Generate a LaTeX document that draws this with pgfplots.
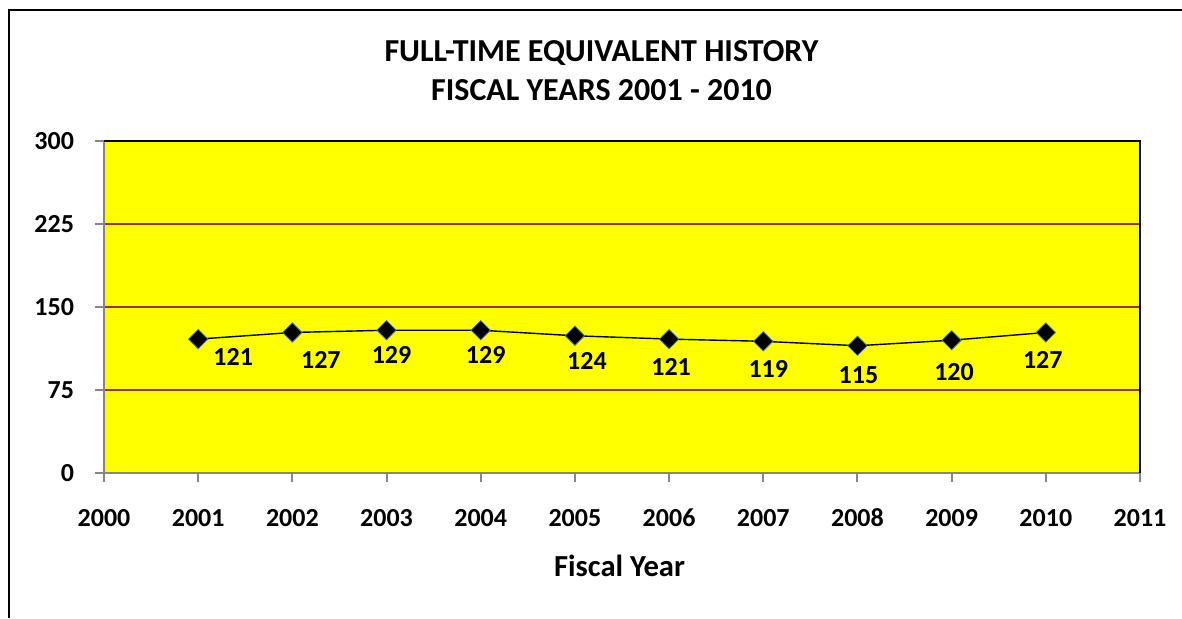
\documentclass[border=0pt]{standalone}
\usepackage{fontspec}
\setmainfont{Carlito}
\usepackage{pgfplots}
\usepackage{pgfplotstable}
\pgfplotsset{compat=1.18}
\definecolor{gridred}{RGB}{150,50,50}
\definecolor{axgray}{RGB}{134,134,134}
\definecolor{mkblue}{RGB}{70,110,180}
\definecolor{plotyellow}{RGB}{255,255,0}
\pgfplotstableread{
x y dx dy
2001 121 17.5 -8.7
2002 127 14.25 -13.75
2003 129 2.5 -12.5
2004 129 2.5 -12.5
2005 124 6 -12.5
2006 121 1 -14
2007 119 2.5 -14
2008 115 0.5 -14.5
2009 120 1.2 -15.75
2010 127 -1.5 -13.75
}\fte
\begin{document}
\begin{tikzpicture}
\useasboundingbox (0pt,0pt) rectangle (591pt,309pt);
\draw[line width=1pt,black] (4.5pt,0pt) -- (4.5pt,304pt) -- (591pt,304pt);
\begin{axis}[
  at={(52pt,72.5pt)}, anchor=south west,
  scale only axis, width=518pt, height=166pt,
  xmin=2000, xmax=2011, ymin=0, ymax=300,
  xtick={2000,2001,...,2011}, ytick={0,75,150,225,300},
  axis lines*=left,
  axis line style={axgray, line width=1pt},
  tick align=outside,
  major tick length=4.5pt,
  tick style={axgray, line width=1pt},
  ymajorgrids, grid style={gridred, line width=0.8pt},
  axis background/.style={fill=plotyellow},
  /pgf/number format/assume math mode=true,
  xticklabel={\pgfmathprintnumber[1000 sep={}]{\tick}},
  xticklabel style={font=\fontsize{13}{15}\selectfont\bfseries, anchor=center, yshift=-18pt},
  yticklabel style={font=\fontsize{13}{15}\selectfont\bfseries, anchor=east, xshift=-7pt},
  clip=false,
]
\draw[black, line width=1pt] (rel axis cs:0,1) -- (rel axis cs:1,1) -- (rel axis cs:1,0);
\addplot[black, line width=0.7pt,
  mark=square*, mark size=3.4pt,
  mark options={rotate=45, fill=black, draw=mkblue, line width=0.4pt},
  visualization depends on={\thisrow{dx} \as \dx},
  visualization depends on={\thisrow{dy} \as \dy},
  nodes near coords,
  every node near coord/.append style={anchor=center, xshift=\dx pt, yshift=\dy pt, font=\fontsize{13}{15}\selectfont\bfseries, text=black},
] table[x=x, y=y] {\fte};
\end{axis}
\node[font=\fontsize{16}{19}\selectfont\bfseries] at (300.75pt,282.5pt) {FULL-TIME EQUIVALENT HISTORY};
\node[font=\fontsize{16}{19}\selectfont\bfseries] at (300.75pt,264pt) {FISCAL YEARS 2001 - 2010};
\node[font=\fontsize{15.3}{18}\selectfont\bfseries] at (309.75pt,26pt) {Fiscal Year};
\end{tikzpicture}
\end{document}
